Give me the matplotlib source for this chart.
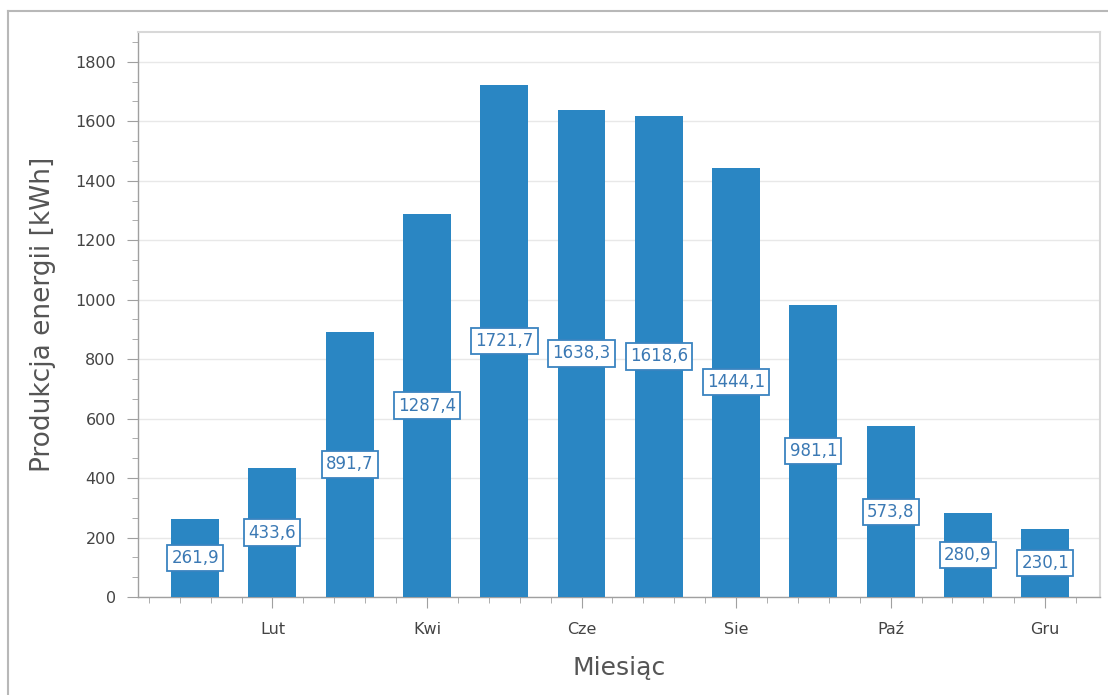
import matplotlib.pyplot as plt
from matplotlib.ticker import MultipleLocator, FixedLocator
from matplotlib.lines import Line2D

months = ['Sty', 'Lut', 'Mar', 'Kwi', 'Maj', 'Cze', 'Lip', 'Sie', 'Wrz', 'Paź', 'Lis', 'Gru']
energy = [261.9, 433.6, 891.7, 1287.4, 1721.7, 1638.3, 1618.6, 1444.1, 981.1, 573.8, 280.9, 230.1]
shown_ticks = [1, 3, 5, 7, 9, 11]

bar_color = '#2a86c3'
axis_grey = '#a0a0a0'
text_grey = '#555555'

fig = plt.figure(figsize=(11.08, 6.95), dpi=100)
ax = fig.add_axes([138 / 1108, 98 / 695, 962 / 1108, 565 / 695])

x = list(range(len(months)))
ax.bar(x, energy, width=0.62, color=bar_color, zorder=3)

for xi, v in zip(x, energy):
  ax.text(xi, v / 2, f'{v:.1f}'.replace('.', ','), ha='center', va='center',
          fontsize=12, color='#3b79b4', zorder=4,
          bbox=dict(boxstyle='square,pad=0.25', fc='white', ec='#3a84c0', lw=1.3))

ax.set_xlim(-0.74, 11.71)
ax.set_ylim(0, 1900)

ax.yaxis.set_major_locator(FixedLocator(range(0, 1801, 200)))
ax.yaxis.set_minor_locator(MultipleLocator(200 / 3))
ax.xaxis.set_major_locator(FixedLocator(shown_ticks))
ax.set_xticklabels([months[i] for i in shown_ticks])
ax.xaxis.set_minor_locator(FixedLocator([-0.6 + 0.4 * k for k in range(31)]))

ax.grid(axis='y', which='major', color='#e8e8e8', lw=1, zorder=0)

for s in ['top', 'right']:
  ax.spines[s].set_color('#d8d8d8')
  ax.spines[s].set_linewidth(1.5)
for s in ['left', 'bottom']:
  ax.spines[s].set_color(axis_grey)
  ax.spines[s].set_linewidth(1)

ax.tick_params(which='major', length=8, color=axis_grey, labelsize=11.5,
               labelcolor='#444444')
ax.tick_params(which='minor', length=4, color=axis_grey)
ax.tick_params(axis='y', which='major', pad=8)
ax.tick_params(axis='x', which='major', pad=10)

ax.set_ylabel('Produkcja energii [kWh]', fontsize=19, color=text_grey, labelpad=14)
ax.set_xlabel('Miesiąc', fontsize=18, color=text_grey, labelpad=14)

# outer frame of the control
fig.add_artist(Line2D([8 / 1108, 8 / 1108], [0, 1 - 11 / 695], color='#b8b8b8', lw=1.5))
fig.add_artist(Line2D([8 / 1108, 1], [1 - 11 / 695, 1 - 11 / 695], color='#b8b8b8', lw=1.5))

fig.savefig('out.png', dpi=100)
